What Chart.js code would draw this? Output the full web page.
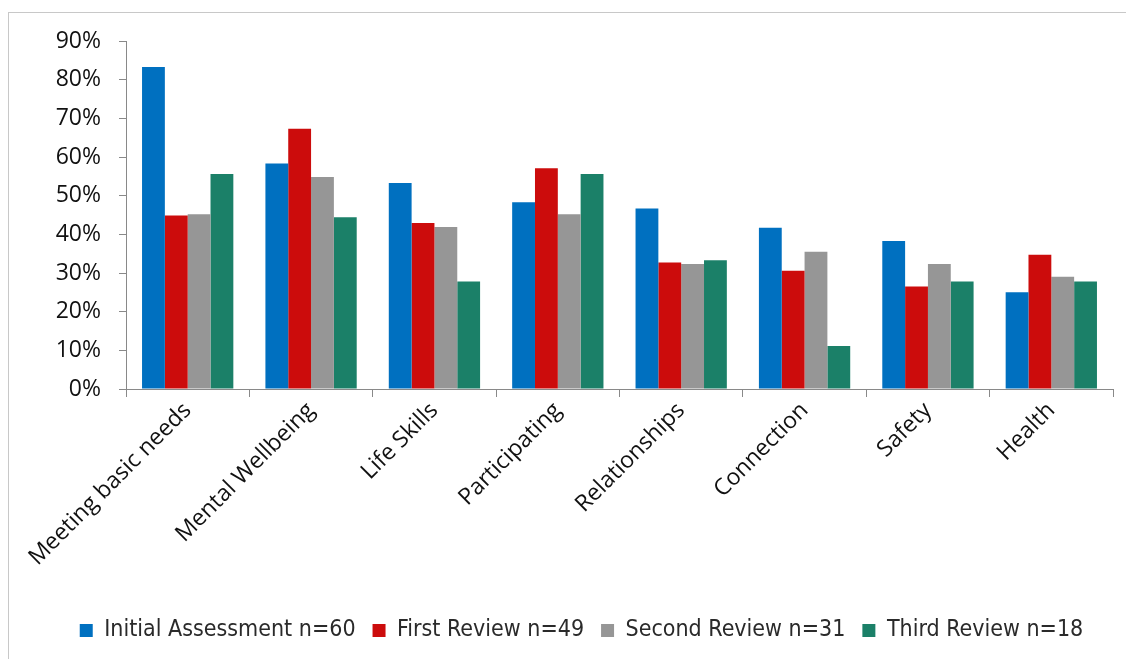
<!DOCTYPE html>
<html lang="en">
<head>
  <meta charset="UTF-8" />
  <title>Outcome areas by review</title>
  <script src="https://cdn.jsdelivr.net/npm/chart.js"></script>
  <style>
    body { margin: 0; background: #fff; }
    #frame { position: absolute; left: 8px; top: 12px; width: 1140px; height: 680px; border: 1px solid #c8c8c8; }
    #wrap { position: absolute; left: 0; top: 0; width: 1126px; height: 659px; }
  </style>
</head>
<body>
  <div id="frame"></div>
  <div id="wrap"><canvas id="chart"></canvas></div>

  <script>
    const categories = ["Meeting basic needs", "Mental Wellbeing", "Life Skills", "Participating",
                        "Relationships", "Connection", "Safety", "Health"];
    const seriesNames = ["Initial Assessment n=60", "First Review n=49", "Second Review n=31", "Third Review n=18"];
    const initial = [0.833, 0.583, 0.533, 0.483, 0.467, 0.417, 0.383, 0.250];
    const first   = [0.449, 0.673, 0.429, 0.571, 0.327, 0.306, 0.265, 0.347];
    const second  = [0.452, 0.548, 0.419, 0.452, 0.323, 0.355, 0.323, 0.290];
    const third   = [0.556, 0.444, 0.278, 0.556, 0.333, 0.111, 0.278, 0.278];
    const colors = ["#0070c0", "#cc0c0c", "#969696", "#1b8068"];

    const axisGrey = "#898989";
    const fontFace = "'Open Sans', sans-serif";

    new Chart(document.getElementById("chart"), {
      type: "bar",
      data: {
        labels: categories,
        datasets: [initial, first, second, third].map((d, i) => ({
          label: seriesNames[i],
          data: d,
          backgroundColor: colors[i],
          borderWidth: 0,
          categoryPercentage: 0.74,
          barPercentage: 1.0
        }))
      },
      options: {
        responsive: true,
        maintainAspectRatio: false,
        animation: false,
        layout: { padding: { left: 50, top: 41, right: 13, bottom: 7 } },
        plugins: {
          tooltip: { enabled: false },
          legend: {
            position: "bottom",
            labels: {
              boxWidth: 13, boxHeight: 13, padding: 17, color: "#2a2a2a",
              font: { family: "'Liberation Sans Narrow', 'DejaVu Sans Condensed', sans-serif", size: 23 }
            }
          }
        },
        scales: {
          x: {
            grid: { drawOnChartArea: false, drawTicks: true, tickLength: 8, color: axisGrey },
            border: { color: axisGrey, width: 1 },
            ticks: { color: "#111", maxRotation: 45, minRotation: 45, padding: 0, font: { family: fontFace, size: 23 } },
            afterFit: s => { s.height = 213; }
          },
          y: {
            min: 0, max: 0.9,
            grid: { drawOnChartArea: false, drawTicks: true, tickLength: 7, color: axisGrey },
            border: { color: axisGrey, width: 1 },
            ticks: {
              stepSize: 0.1, color: "#111", padding: 18,
              font: { family: fontFace, size: 23 },
              callback: v => Math.round(v * 100) + "%"
            },
            afterFit: s => { s.width = 76; }
          }
        }
      }
    });
  </script>
</body>
</html>
